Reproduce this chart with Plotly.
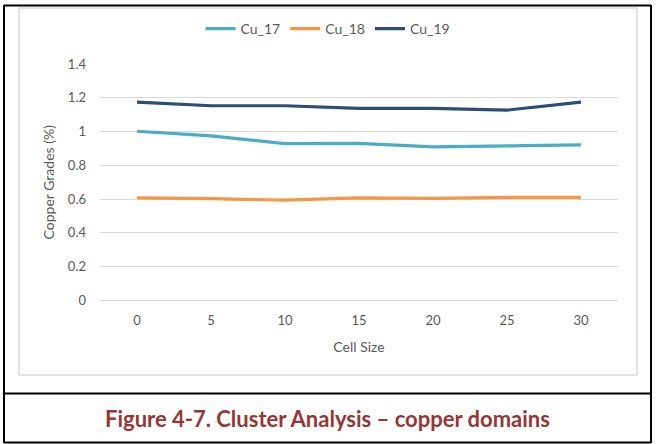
import plotly.graph_objects as go

FONT = "Lato, 'Open Sans', sans-serif"

cell_size = [0, 5, 10, 15, 20, 25, 30]
cu_17 = [1.002, 0.975, 0.929, 0.930, 0.910, 0.915, 0.921]
cu_18 = [0.607, 0.603, 0.594, 0.607, 0.605, 0.611, 0.611]
cu_19 = [1.174, 1.153, 1.153, 1.137, 1.137, 1.127, 1.174]

series = [
    ("Cu_17", cu_17, "#4bacc6"),
    ("Cu_18", cu_18, "#f79646"),
    ("Cu_19", cu_19, "#2c4d75"),
]

W, H = 656, 444


def px(x):
    return x / W


def py(y):
    return (H - y) / H


fig = go.Figure()
for name, vals, color in series:
    fig.add_trace(
        go.Scatter(
            x=cell_size,
            y=vals,
            name=name,
            mode="lines",
            line=dict(color=color, width=3.2),
        )
    )

fig.update_xaxes(
    domain=[px(100), px(618)],
    range=[-2.5, 32.5],
    tickvals=cell_size,
    showgrid=False,
    zeroline=False,
    showline=False,
    ticks="",
    ticklabelstandoff=10,
    automargin=False,
    tickfont=dict(family=FONT, size=13, color="#595959"),
    title=dict(text="Cell Size", font=dict(family=FONT, size=14, color="#595959"), standoff=15),
    fixedrange=True,
)
fig.update_yaxes(
    domain=[py(300.5), py(64)],
    range=[0, 1.4],
    dtick=0.2,
    tickformat="~g",
    showgrid=True,
    gridcolor="#d9d9d9",
    gridwidth=1,
    zeroline=True,
    zerolinecolor="#d9d9d9",
    zerolinewidth=1,
    showline=False,
    ticks="",
    ticklabelstandoff=13,
    automargin=False,
    tickfont=dict(family=FONT, size=13, color="#595959"),
    title=dict(text="Copper Grades (%)", font=dict(family=FONT, size=14, color="#595959"), standoff=9),
    fixedrange=True,
)

# table borders and chart frame
black = dict(color="black", width=2)
shapes = [
    dict(type="line", x0=px(4), x1=px(4), y0=py(5), y1=py(443), line=black),
    dict(type="line", x0=px(651), x1=px(651), y0=py(5), y1=py(443), line=black),
    dict(type="line", x0=px(4), x1=px(651), y0=py(5.5), y1=py(5.5), line=black),
    dict(type="line", x0=px(4), x1=px(651), y0=py(393.5), y1=py(393.5), line=black),
    dict(type="line", x0=px(4), x1=px(651), y0=py(442.5), y1=py(442.5), line=black),
    dict(type="rect", x0=px(19), x1=px(637), y0=py(8), y1=py(375),
         line=dict(color="#d9d9d9", width=1.5)),
]
for s in shapes:
    s.update(xref="paper", yref="paper", layer="above" if s["type"] == "line" else "below")

fig.update_layout(
    width=W,
    height=H,
    margin=dict(l=0, r=0, t=0, b=0, pad=0, autoexpand=False),
    paper_bgcolor="white",
    plot_bgcolor="white",
    shapes=shapes,
    showlegend=True,
    legend=dict(
        orientation="h",
        x=0.5,
        xanchor="center",
        y=py(29),
        yanchor="middle",
        font=dict(family=FONT, size=14, color="#595959"),
        itemwidth=30,
        tracegroupgap=0,
    ),
    annotations=[
        dict(
            text="<b>Figure 4-7. Cluster Analysis – copper domains</b>",
            x=px(327.5),
            y=py(418),
            xref="paper",
            yref="paper",
            xanchor="center",
            yanchor="middle",
            showarrow=False,
            font=dict(family=FONT, size=22, color="#953735"),
        )
    ],
)

fig.write_html(
    "out.html",
    config={"displayModeBar": False},
    post_script="document.body.style.margin='0';",
)
